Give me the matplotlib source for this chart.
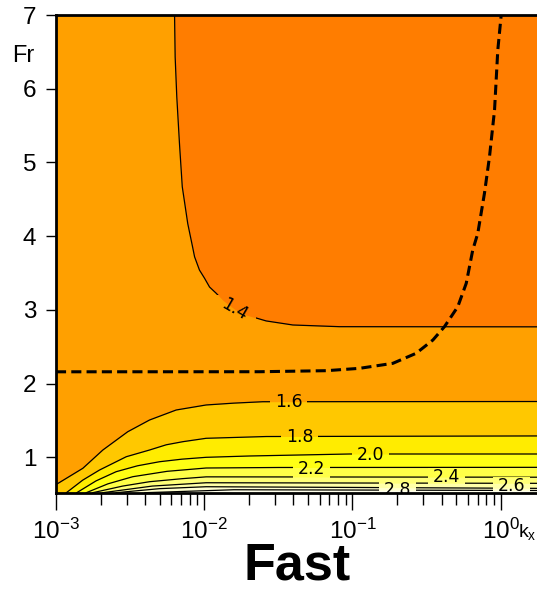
import matplotlib
matplotlib.use("Agg")
import matplotlib.pyplot as plt
import numpy as np
from matplotlib.path import Path
from matplotlib.transforms import IdentityTransform
from matplotlib.ticker import LogLocator, NullFormatter, FixedLocator

plt.rcParams['font.family'] = ['Liberation Sans', 'DejaVu Sans']
plt.rcParams['mathtext.fontset'] = 'custom'
plt.rcParams['mathtext.rm'] = 'Liberation Sans'
plt.rcParams['mathtext.it'] = 'Liberation Sans:italic'
plt.rcParams['mathtext.bf'] = 'Liberation Sans:bold'
plt.rcParams['mathtext.default'] = 'regular'

# axis ranges
kx_min, kx_max = 1e-3, 1.76
fr_min, fr_max = 0.52, 7.0

# contour 1.4 (upper right region lies above it), log10(kx) and Fr
lk_14 = [-2.200, -2.196, -2.185, -2.167, -2.148, -2.111, -2.077, -2.065, -2.032,
         -1.998, -1.964, -1.919, -1.874, -1.796, -1.717, -1.582, -1.402, -1.087, 0.25]
fr_14 = [7.0, 6.43, 5.89, 5.26, 4.67, 4.17, 3.84, 3.72, 3.54,
         3.43, 3.31, 3.225, 3.13, 3.01, 2.93, 2.85, 2.795, 2.772, 2.77]

# lower contours: level -> (log10 kx, Fr)
levels = [1.6, 1.8, 2.0, 2.2, 2.4, 2.6, 2.8, 3.0]
lk_lines = [
    [-3.0, -2.819, -2.684, -2.516, -2.369, -2.189, -1.987, -1.80, -1.605, 0.25],
    [-2.93, -2.82, -2.706, -2.526, -2.369, -2.256, -2.144, -1.987, -1.582, 0.25],
    [-2.86, -2.73, -2.594, -2.45, -2.302, -2.15, -1.987, -1.694, -1.019, 0.25],
    [-2.796, -2.65, -2.482, -2.25, -1.987, -1.50, 0.25],
    [-2.752, -2.55, -2.369, -2.15, -1.987, 0.25],
    [-2.684, -2.35, -1.987, 0.25],
    [-2.594, -2.30, -1.987, 0.25],
    [-2.40, -1.80, 0.25],
]
fr_lines = [
    [0.63, 0.851, 1.099, 1.347, 1.506, 1.642, 1.710, 1.735, 1.754, 1.757],
    [0.52, 0.69, 0.828, 1.008, 1.099, 1.17, 1.212, 1.258, 1.282, 1.29],
    [0.52, 0.68, 0.805, 0.885, 0.940, 0.975, 1.0, 1.018, 1.045, 1.045],
    [0.52, 0.64, 0.737, 0.81, 0.855, 0.862, 0.864],
    [0.52, 0.61, 0.669, 0.71, 0.735, 0.73],
    [0.52, 0.61, 0.655, 0.647],
    [0.52, 0.575, 0.601, 0.579],
    [0.52, 0.56, 0.55],
]

# dashed curve
lk_dash = [-3.0, -1.627, -1.177, -0.952, -0.727, -0.570, -0.457, -0.379, -0.289,
           -0.232, -0.188, -0.154, -0.109, -0.075, -0.041, -0.019, 0.004]
fr_dash = [2.16, 2.161, 2.175, 2.207, 2.275, 2.411, 2.591, 2.772, 3.043,
           3.360, 3.812, 4.039, 4.581, 5.078, 5.711, 6.525, 7.0]

# contour labels: text, log10 kx, Fr, rotation
lab_text = ['1.4', '1.6', '1.8', '2.0', '2.2', '2.4', '2.6', '2.8']
lab_lk = [-1.796, -1.431, -1.357, -0.878, -1.276, -0.365, 0.073, -0.696]
lab_fr = [3.01, 1.75, 1.275, 1.031, 0.841, 0.733, 0.611, 0.557]
lab_rot = [-30, 0, 0, 0, 0, 0, 0, 0]

# fill colours
c_low = '#FF7D00'      # below 1.4
c_base = '#FFA000'     # 1.4 - 1.6
fill_colors = ['#FFC800', '#FFEC00', '#FFFF14', '#FFFF48', '#FFFF78',
               '#FFFFA8', '#FFFFD0', '#FFFFEC']

fig = plt.figure(figsize=(5.37, 5.91), dpi=100)
ax = fig.add_axes([56 / 537, 1 - 492.7 / 591, 1 - 56 / 537, (492.7 - 15) / 591])
ax.set_xscale('log')
ax.set_xlim(kx_min, kx_max)
ax.set_ylim(fr_min, fr_max)
ax.set_facecolor(c_base)

ax.fill_between(10 ** np.array(lk_14), fr_14, fr_max, color=c_low, lw=0)
for lk, fr, col in zip(lk_lines, fr_lines, fill_colors):
    ax.fill_between(10 ** np.array(lk), fr_min - 0.2, fr, color=col, lw=0)

contour_lines = []
ln, = ax.plot(10 ** np.array(lk_14), fr_14, color='black', lw=0.9)
contour_lines.append(ln)
for lk, fr in zip(lk_lines, fr_lines):
    ln, = ax.plot(10 ** np.array(lk), fr, color='black', lw=0.9)
    contour_lines.append(ln)

ax.plot(10 ** np.array(lk_dash), fr_dash, color='black', lw=2.2,
        linestyle=(0, (3.3, 1.7)))

labels = []
for t, lk, fr, rot in zip(lab_text, lab_lk, lab_fr, lab_rot):
    labels.append(ax.text(10 ** lk, fr, t, ha='center', va='center', fontsize=12.5,
                          family='DejaVu Sans', rotation=rot, clip_on=True))

# axes styling
for s in ['left', 'bottom', 'top']:
    ax.spines[s].set_linewidth(2.0)
ax.spines['right'].set_visible(False)
ax.yaxis.set_major_locator(FixedLocator([1, 2, 3, 4, 5, 6, 7]))
ax.xaxis.set_major_locator(LogLocator(base=10, numticks=10))
ax.xaxis.set_minor_locator(LogLocator(base=10, subs=np.arange(2, 10), numticks=20))
ax.xaxis.set_minor_formatter(NullFormatter())
ax.tick_params(axis='y', which='major', length=7.2, width=1.0, pad=7, labelsize=17.5)
ax.tick_params(axis='x', which='major', length=12.5, width=1.0, pad=6, labelsize=17.5)
ax.tick_params(axis='x', which='minor', length=8.5, width=1.0)

fig.text(12 / 537, 1 - 62 / 591, 'Fr', fontsize=17, ha='left', va='baseline')
fig.text(518 / 537, 1 - 537 / 591, r'$\mathregular{k_x}$', fontsize=14,
         ha='left', va='baseline')
fig.text(297 / 537, 1 - 580 / 591, 'Fast', fontsize=37.5, fontweight='bold',
         ha='center', va='baseline')

# break contour lines where labels sit
fig.canvas.draw()
rend = fig.canvas.get_renderer()
ab = ax.get_window_extent(rend)
verts = [(ab.x0, ab.y0), (ab.x1, ab.y0), (ab.x1, ab.y1), (ab.x0, ab.y1), (ab.x0, ab.y0)]
codes = [Path.MOVETO, Path.LINETO, Path.LINETO, Path.LINETO, Path.CLOSEPOLY]
for t in labels:
    bb = t.get_window_extent(rend)
    x0, x1, y0, y1 = bb.x0 - 5, bb.x1 + 5, bb.y0, bb.y1
    verts += [(x0, y0), (x0, y1), (x1, y1), (x1, y0), (x0, y0)]
    codes += [Path.MOVETO, Path.LINETO, Path.LINETO, Path.LINETO, Path.CLOSEPOLY]
hole_path = Path(verts, codes)
for ln in contour_lines:
    ln.set_clip_path(hole_path, IdentityTransform())

fig.savefig('out.png', dpi=100)
